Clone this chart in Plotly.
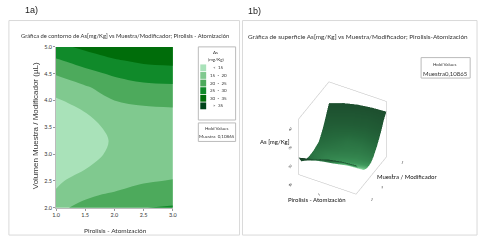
import plotly.graph_objects as go

W, H = 484, 240
pirolisis = [1.0, 1.5, 2.0, 2.5, 3.0]
volumen = [2.0, 2.25, 2.5, 2.75, 3.0, 3.25, 3.5, 3.75, 4.0, 4.25, 4.5, 4.75, 5.0]
as_x10 = [19.2, 15.5, 14.3, 13.4, 13.0, 13.0, 13.2, 13.8, 14.4, 17.2, 20.4, 24.5, 28.5]
as_x15 = [21.0, 19.3, 16.8, 14.8, 14.0, 13.8, 14.1, 14.8, 17.0, 19.5, 23.5, 27.0, 31.2]
as_x20 = [23.5, 20.5, 18.0, 16.5, 15.6, 15.3, 15.7, 17.0, 20.0, 22.5, 25.7, 29.6, 33.0]
as_x25 = [24.9, 22.0, 19.5, 17.5, 16.5, 16.2, 16.8, 18.5, 21.0, 23.8, 27.3, 31.0, 34.0]
as_x30 = [25.6, 22.2, 20.3, 18.0, 17.0, 16.7, 17.2, 18.8, 21.3, 24.2, 27.6, 31.6, 34.5]
as_rows = list(map(list, zip(as_x10, as_x15, as_x20, as_x25, as_x30)))

shade_x10 = [0.00, 0.10, 0.18, 0.24, 0.28, 0.30, 0.30, 0.28, 0.26, 0.22, 0.18, 0.14, 0.10]
shade_x15 = [0.00, 0.18, 0.30, 0.36, 0.38, 0.38, 0.36, 0.32, 0.28, 0.24, 0.18, 0.14, 0.10]
shade_x20 = [0.00, 0.30, 0.44, 0.46, 0.44, 0.42, 0.38, 0.34, 0.30, 0.24, 0.18, 0.14, 0.10]
shade_x25 = [0.00, 0.60, 0.80, 0.70, 0.55, 0.46, 0.40, 0.35, 0.30, 0.24, 0.18, 0.14, 0.10]
shade_x30 = [0.10, 0.80, 1.00, 0.90, 0.68, 0.50, 0.40, 0.34, 0.28, 0.22, 0.17, 0.13, 0.10]
shade_rows = list(map(list, zip(shade_x10, shade_x15, shade_x20, shade_x25, shade_x30)))

legend_labels = ["<  15", "15  -  20", "20  -  25", "25  -  30", "30  -  35", ">  35"]
legend_colors = ["#a9e2b9", "#80c98f", "#4daa5c", "#108a2a", "#006d0a", "#00441b"]
x_ticks = [1.0, 1.5, 2.0, 2.5, 3.0]
y_ticks = [2.0, 2.5, 3.0, 3.5, 4.0, 4.5, 5.0]

FONT = "Lato, Liberation Sans, sans-serif"
px = lambda v: v / W
py = lambda v: 1 - v / H

scale = []
for i, c in enumerate(legend_colors):
    scale += [[i / 6, c], [(i + 1) / 6, c]]

fig = go.Figure()
fig.add_trace(go.Contour(
    x=pirolisis, y=volumen, z=as_rows, colorscale=scale, zmin=10, zmax=40, showscale=False,
    autocontour=False, contours=dict(start=15, end=35, size=5, coloring="fill", showlines=False),
    line=dict(width=0), xaxis="x", yaxis="y", hoverinfo="skip"))
fig.add_trace(go.Surface(
    x=pirolisis, y=volumen, z=as_rows, surfacecolor=shade_rows, scene="scene", showscale=False, cmin=0, cmax=1,
    colorscale=[[0, "#173d25"], [0.25, "#25693c"], [0.5, "#3f9a5c"], [1, "#b0f5c0"]],
    lighting=dict(ambient=1, diffuse=0, specular=0, roughness=1), hoverinfo="skip"))


def rect(x0, y0, x1, y1, line="#d9d9d9", fill=None, w=1):
    fig.add_shape(type="rect", xref="paper", yref="paper", x0=px(x0), x1=px(x1), y0=py(y0), y1=py(y1),
                  line=dict(color=line, width=w), fillcolor=fill, layer="below" if fill is None else "above")


def label(x, y, text, size=7, color="#333333", angle=0, font=FONT):
    fig.add_annotation(xref="paper", yref="paper", x=px(x), y=py(y), text=text, showarrow=False, xanchor="center",
                       yanchor="middle", textangle=angle, font=dict(size=size, color=color, family=font))


rect(5, 18, 240, 238)
rect(243, 18, 482, 238)
label(28, 7, "1a)", 9, "#222222", font="Liberation Sans, sans-serif")
label(255, 8, "1b)", 9, "#222222", font="Liberation Sans, sans-serif")
label(123, 33, "Gráfica de contorno de As[mg/Kg] vs Muestra/Modificador; Pirolisis - Atomización", 5.8)
label(361, 34, "Gráfica de superficie As[mg/Kg] vs Muestra/Modificador; Pirolisis-Atomización", 6.4)
label(32, 126, "Volumen Muestra / Modificador (µL)", 8, angle=-90, font="Liberation Sans, sans-serif")
label(114, 233, "Pirolisis - Atomización", 6.5)

rect(198, 45, 236, 120, "#bbbbbb")
rect(198, 123, 236, 142, "#bbbbbb")
label(216, 51, "As", 4.5)
label(216, 58, "(mg/Kg)", 4.5)
for i, (c, t) in enumerate(zip(legend_colors, legend_labels)):
    y = 66.5 + i * 7.8
    rect(200, y - 3.5, 206, y + 3.5, line=c, fill=c, w=0)
    label(219, y, t, 4.5)
label(217, 129, "Hold Values", 4.5)
label(217, 137, "Muestra  0,10865", 4.5)

rect(425, 56, 475, 77, "#bbbbbb")
label(449, 63, "Hold Values", 4.5)
label(450, 72, "Muestra0,10865", 6)
label(276, 142, "As [mg/Kg]", 6, "#111111")
label(319, 202, "Pirolisis - Atomización", 6, "#111111")
label(411, 178, "Muestra / Modificador", 6, "#111111")

axis3d = dict(showbackground=False, showgrid=False, zeroline=False, showline=True, linecolor="#bbbbbb",
              linewidth=1, mirror=True, ticks="", tickfont=dict(size=6, color="#222222", family=FONT),
              title=dict(text=""), showspikes=False)
fig.update_layout(
    width=W, height=H, margin=dict(l=0, r=0, t=0, b=0), paper_bgcolor="white", plot_bgcolor="white",
    showlegend=False,
    xaxis=dict(domain=[px(53), px(172)], range=[1, 3], tickvals=x_ticks, ticktext=[f"{v:.1f}" for v in x_ticks],
               ticks="outside", ticklen=2, tickcolor="#999999", tickfont=dict(size=5.5, family=FONT, color="#333333"),
               showgrid=False, zeroline=False, showline=True, linecolor="#bbbbbb", anchor="y"),
    yaxis=dict(domain=[py(210), py(45)], range=[2, 5], tickvals=y_ticks, ticktext=[f"{v:.1f}" for v in y_ticks],
               ticks="outside", ticklen=2, tickcolor="#999999", tickfont=dict(size=5.5, family=FONT, color="#333333"),
               showgrid=False, zeroline=False, showline=True, linecolor="#bbbbbb", anchor="x"),
    scene=dict(
        domain=dict(x=[px(250), px(441)], y=[py(205), py(72)]),
        xaxis=dict(axis3d, range=[1, 3], tickvals=[1, 2, 3]),
        yaxis=dict(axis3d, range=[2, 5], tickvals=[2, 3, 4, 5]),
        zaxis=dict(axis3d, range=[10, 40], tickvals=[10, 20, 30, 40]),
        aspectmode="manual", aspectratio=dict(x=1, y=1, z=1.12),
        camera=dict(eye=dict(x=0.98, y=-1.86, z=1.78), projection=dict(type="orthographic"))),
)
fig.write_html("out.html", config=dict(displayModeBar=False),
               post_script="document.body.style.margin='0';document.body.style.overflow='hidden';")
